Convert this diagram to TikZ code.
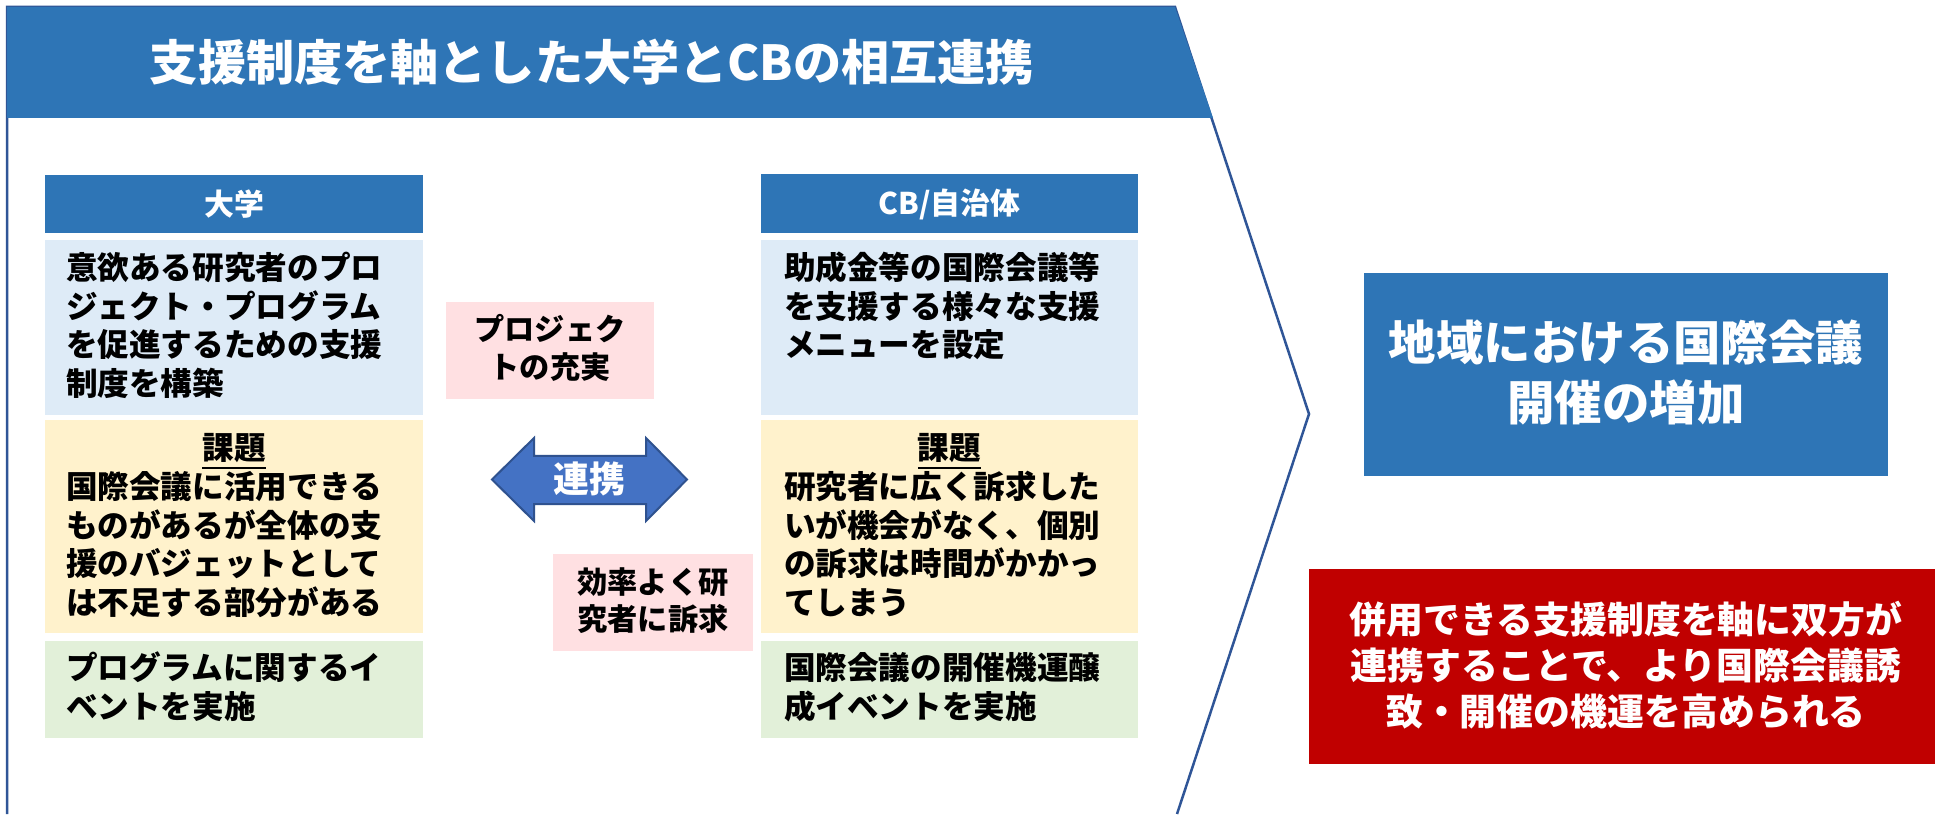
\documentclass[tikz,border=0pt]{standalone}
\usepackage{fontspec}
\setmainfont{Noto Sans CJK JP}
\definecolor{c2e75b6}{RGB}{46,117,182}
\definecolor{c2f5597}{RGB}{47,85,151}
\definecolor{cdeebf7}{RGB}{222,235,247}
\definecolor{cfff2cc}{RGB}{255,242,204}
\definecolor{ce2f0d9}{RGB}{226,240,217}
\definecolor{cffe0e2}{RGB}{255,224,226}
\definecolor{c4472c4}{RGB}{68,114,196}
\definecolor{c2f528f}{RGB}{47,82,143}
\definecolor{cc00000}{RGB}{192,0,0}
\def \globalscale {1.000000}

\begin{document}
\begin{tikzpicture}[y=1mm, x=1mm, yscale=\globalscale,xscale=\globalscale, every node/.append style={scale=\globalscale}, inner sep=0pt, outer sep=0pt]
  \path[use as bounding box,fill=white] (0.0, 0.0) rectangle (193.5, 81.4);



  \path[draw=c2f5597,line cap=butt,line join=miter,line width=0.25mm,miter 
  limit=10.0] (0.7, 0.0) -- (0.7, 80.7) -- (117.5, 80.7) -- (130.9, 40.0) -- 
  (117.7, 0.0);



  \path[fill=c2e75b6,line cap=butt,line join=miter,miter limit=10.0] (0.7, 
  80.7) -- (117.5, 80.7) -- (121.3, 69.6) -- (0.7, 69.6) -- cycle;



  \node[text=white,anchor=center,font=\fontsize{13.7pt}{16pt}\selectfont\bfseries] 
  (texttitle) at (59.2, 75.2){支援制度を軸とした大学とCBの相互連携};



  % left column
  \path[fill=c2e75b6] (4.5, 63.9) rectangle (42.3, 58.1);



  \path[fill=cdeebf7] (4.5, 57.4) rectangle (42.3, 39.9);



  \path[fill=cfff2cc] (4.5, 39.4) rectangle (42.3, 18.1);



  \path[fill=ce2f0d9] (4.5, 17.3) rectangle (42.3, 7.6);



  \node[text=white,anchor=center,font=\fontsize{8.5pt}{10pt}\selectfont\bfseries] 
  (textuniv) at (23.4, 61.0){大学};



  \node[anchor=base west,text width=34mm,align=left,font=\fontsize{9pt}{10.95pt}\selectfont\bfseries] 
  (textunivplan) at (6.6, 53.43){意欲ある研究者のプロ\\ジェクト・プログラム\\を促進するための支援\\制度を構築};



  \node[anchor=base,font=\fontsize{9pt}{10.95pt}\selectfont\bfseries] 
  (textunivissue) at (23.4, 35.43){\underline{課題}};



  \node[anchor=base west,text width=34mm,align=left,font=\fontsize{9pt}{10.95pt}\selectfont\bfseries] 
  (textunivissuebody) at (6.6, 31.53){国際会議に活用できる\\ものがあるが全体の支\\援のバジェットとして\\は不足する部分がある};



  \node[anchor=base west,text width=34mm,align=left,font=\fontsize{9pt}{10.95pt}\selectfont\bfseries] 
  (textunivevent) at (6.6, 13.43){プログラムに関するイ\\ベントを実施};



  % right column
  \path[fill=c2e75b6] (76.1, 64.0) rectangle (113.8, 58.1);



  \path[fill=cdeebf7] (76.1, 57.4) rectangle (113.8, 39.9);



  \path[fill=cfff2cc] (76.1, 39.4) rectangle (113.8, 18.1);



  \path[fill=ce2f0d9] (76.1, 17.3) rectangle (113.8, 7.6);



  \node[text=white,anchor=center,font=\fontsize{8.5pt}{10pt}\selectfont\bfseries] 
  (textcb) at (94.95, 61.0){CB/自治体};



  \node[anchor=base west,text width=34mm,align=left,font=\fontsize{9pt}{10.95pt}\selectfont\bfseries] 
  (textcbplan) at (78.4, 53.43){助成金等の国際会議等\\を支援する様々な支援\\メニューを設定};



  \node[anchor=base,font=\fontsize{9pt}{10.95pt}\selectfont\bfseries] 
  (textcbissue) at (94.95, 35.43){\underline{課題}};



  \node[anchor=base west,text width=34mm,align=left,font=\fontsize{9pt}{10.95pt}\selectfont\bfseries] 
  (textcbissuebody) at (78.4, 31.53){研究者に広く訴求した\\いが機会がなく、個別\\の訴求は時間がかかっ\\てしまう};



  \node[anchor=base west,text width=34mm,align=left,font=\fontsize{9pt}{10.95pt}\selectfont\bfseries] 
  (textcbevent) at (78.4, 13.43){国際会議の開催機運醸\\成イベントを実施};



  % middle
  \path[fill=cffe0e2] (44.6, 51.2) rectangle (65.4, 41.5);



  \path[fill=cffe0e2] (55.3, 26.0) rectangle (75.3, 16.3);



  \node[anchor=base,text width=20mm,align=center,font=\fontsize{8.6pt}{10.8pt}\selectfont\bfseries] 
  (textproject) at (55.0, 47.3){プロジェク\\トの充実};



  \node[anchor=base,text width=20mm,align=center,font=\fontsize{8.6pt}{10.8pt}\selectfont\bfseries] 
  (textappeal) at (65.3, 22.1){効率よく研\\究者に訴求};



  \path[draw=c2f528f,fill=c4472c4,line join=miter,line width=0.2mm,miter 
  limit=10.0] (49.2, 33.45) -- (53.4, 37.6) -- (53.4, 35.8) -- (64.6, 35.8) -- 
  (64.6, 37.6) -- (68.7, 33.45) -- (64.6, 29.3) -- (64.6, 31.0) -- (53.4, 31.0) 
  -- (53.4, 29.3) -- cycle;



  \node[text=white,anchor=center,font=\fontsize{10.2pt}{12pt}\selectfont\bfseries] 
  (textrenkei) at (58.95, 33.5){連携};



  % results
  \path[fill=c2e75b6] (136.4, 54.1) rectangle (188.8, 33.8);



  \node[text=white,anchor=center,align=center,font=\fontsize{13.5pt}{16.8pt}\selectfont\bfseries] 
  (textresult) at (162.6, 44.15){地域における国際会議\\開催の増加};



  \path[fill=cc00000] (130.9, 24.5) rectangle (193.5, 5.0);



  \node[text=white,anchor=center,align=center,font=\fontsize{10.5pt}{13.1pt}\selectfont\bfseries] 
  (textsummary) at (162.6, 14.85){併用できる支援制度を軸に双方が\\連携することで、より国際会議誘\\致・開催の機運を高められる};




\end{tikzpicture}
\end{document}
